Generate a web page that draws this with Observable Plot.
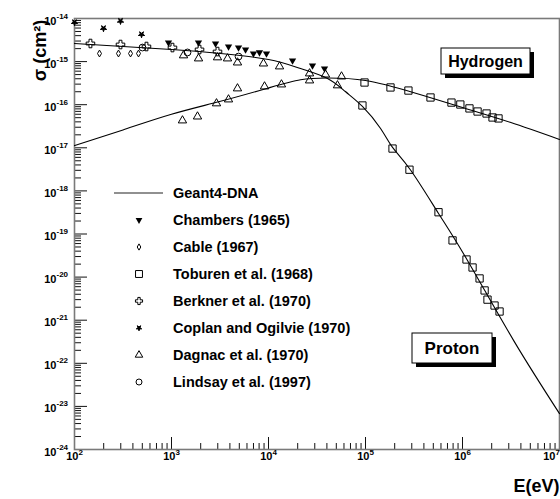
<!DOCTYPE html>
<html><head><meta charset="utf-8">
<script src="https://cdn.jsdelivr.net/npm/d3@7"></script>
<script src="https://cdn.jsdelivr.net/npm/@observablehq/plot@0.6"></script>
<style>
html,body{margin:0;padding:0;background:#fff;}
#chart{position:relative;width:560px;height:499px;}
</style></head><body><div id="chart"></div>
<script>
// ---- Geant4-DNA curves ----
const protonCurveE = [100, 1000, 3200, 1e4, 2.14e4, 4.06e4, 6.2e4, 9.3e4, 1.43e5, 1.9e5, 2.9e5, 5.66e5, 1.13e6, 3.36e6, 1e7];
const protonCurveS = [2.63e-15, 1.91e-15, 1.54e-15, 1.12e-15, 6.9e-16, 4.06e-16, 2.02e-16, 9.1e-17, 2.8e-17, 1.02e-17, 3.1e-18, 3.0e-19, 2.4e-20, 3.4e-22, 6.8e-24];
const hydrogenCurveE = [100, 316, 1000, 3200, 1e4, 2.14e4, 4.06e4, 1e5, 3.1e5, 1e6, 3.1e6, 1e7];
const hydrogenCurveS = [1.13e-17, 2.6e-17, 6.0e-17, 1.2e-16, 2.45e-16, 3.8e-16, 4.16e-16, 3.64e-16, 1.92e-16, 8.6e-17, 3.9e-17, 1.56e-17];

// ---- experimental data ----
const chambersE = [931, 1897, 2844, 3873, 4910, 5800, 7000, 8070, 9530, 17700, 28400, 37800];
const chambersS = [2.77e-15, 2.77e-15, 2.63e-15, 2.24e-15, 2.12e-15, 1.91e-15, 1.54e-15, 1.63e-15, 1.54e-15, 1.06e-15, 8.1e-16, 6.9e-16];
const cableE = [181, 284, 378, 457];
const cableS = [1.54e-15, 1.54e-15, 1.54e-15, 1.54e-15];
const toburenE = [9.77e4, 1.81e5, 2.77e5, 4.68e5, 7.7e5, 9.5e5, 1.18e6, 1.43e6, 1.77e6, 2.04e6, 2.35e6,
                  9.3e4, 1.9e5, 2.84e5, 5.66e5, 7.9e5, 1.10e6, 1.27e6, 1.50e6, 1.69e6, 1.81e6, 2.14e6, 2.41e6];
const toburenS = [3.27e-16, 2.51e-16, 2.13e-16, 1.47e-16, 1.12e-16, 1.01e-16, 8.2e-17, 6.95e-17, 6.25e-17, 5.05e-17, 4.8e-17,
                  9.6e-17, 9.6e-18, 3.1e-18, 3.2e-19, 7.1e-20, 2.56e-20, 1.67e-20, 9.3e-21, 4.9e-21, 3.0e-21, 2.19e-21, 1.59e-21];
const berknerE = [146, 298, 552, 1023, 1945, 2980];
const berknerS = [2.63e-15, 2.49e-15, 2.24e-15, 2.12e-15, 1.91e-15, 1.71e-15];
const coplanE = [100, 199, 298, 491];
const coplanS = [8.1e-15, 5.9e-15, 8.7e-15, 4.26e-15];
const dagnacE = [1330, 1900, 2980, 3780, 4790, 8870, 13000, 26500, 26500, 38700, 56600, 51400,
                 1297, 1854, 2910, 3870, 4790, 9100, 13600];
const dagnacS = [1.39e-15, 1.18e-15, 1.25e-15, 1.18e-15, 9.5e-16, 9.0e-16, 7.7e-16, 5.3e-16, 3.64e-16, 5.0e-16, 4.5e-16, 2.8e-16,
                 4.3e-17, 5.3e-17, 1.07e-16, 1.32e-16, 2.38e-16, 2.64e-16, 2.94e-16];
const lindsayE = [502, 1462, 4910];
const lindsayS = [2.12e-15, 1.63e-15, 1.31e-15];

// ---- tick labels ----
const xDecades = [1e2, 1e3, 1e4, 1e5, 1e6, 1e7];
const xExp = ["2", "3", "4", "5", "6", "7"];
const yDecades = [1e-24, 1e-23, 1e-22, 1e-21, 1e-20, 1e-19, 1e-18, 1e-17, 1e-16, 1e-15, 1e-14];
const yExp = ["-24", "-23", "-22", "-21", "-20", "-19", "-18", "-17", "-16", "-15", "-14"];

const xMinor = [];
for (let e = 2; e < 7; e++) for (let k = 2; k <= 9; k++) xMinor.push(k * Math.pow(10, e));
const yMinor = [];
for (let e = -24; e < -14; e++) for (let k = 2; k <= 9; k++) yMinor.push(k * Math.pow(10, e));

const FONT = '"Liberation Sans", Arial, Helvetica, sans-serif';

const series = [
  {name: "Chambers (1965)", E: chambersE, S: chambersS, symbol: d3.symbolTriangle, rotate: 180, fill: "black", stroke: "none", r: 2.7, lr: 2.5},
  {name: "Cable (1967)", E: cableE, S: cableS, symbol: d3.symbolDiamond, rotate: 0, fill: "none", stroke: "black", r: 2.1, lr: 1.9},
  {name: "Toburen et al. (1968)", E: toburenE, S: toburenS, symbol: d3.symbolSquare, rotate: 0, fill: "none", stroke: "black", r: 4.1, lr: 3.9},
  {name: "Berkner et al. (1970)", E: berknerE, S: berknerS, symbol: d3.symbolCross, rotate: 0, fill: "none", stroke: "black", r: 3.6, lr: 3.0},
  {name: "Coplan and Ogilvie (1970)", E: coplanE, S: coplanS, symbol: d3.symbolStar, rotate: 180, fill: "black", stroke: "black", r: 2.0, lr: 1.7},
  {name: "Dagnac et al. (1970)", E: dagnacE, S: dagnacS, symbol: d3.symbolTriangle, rotate: 0, fill: "none", stroke: "black", r: 3.1, lr: 2.8},
  {name: "Lindsay et al. (1997)", E: lindsayE, S: lindsayS, symbol: d3.symbolCircle, rotate: 0, fill: "none", stroke: "black", r: 3.4, lr: 3.0}
];

const curves = [
  ...protonCurveE.map((e, i) => ({E: e, S: protonCurveS[i], c: "Proton"})),
  ...hydrogenCurveE.map((e, i) => ({E: e, S: hydrogenCurveS[i], c: "Hydrogen"}))
];

const dotMarks = series.map(s => Plot.dot(s.E.map((e, i) => ({E: e, S: s.S[i]})), {
  x: "E", y: "S", symbol: s.symbol, r: s.r, rotate: s.rotate, fill: s.fill, stroke: s.stroke, strokeWidth: 1
}));

const tickColor = "#111";
const svgEl = Plot.plot({
  width: 560, height: 499,
  marginLeft: 74, marginRight: 1, marginTop: 18, marginBottom: 50,
  style: {fontFamily: FONT, background: "white", overflow: "visible"},
  x: {type: "log", domain: [1e2, 1e7]},
  y: {type: "log", domain: [1e-24, 1e-14]},
  marks: [
    Plot.axisX(xDecades, {tickSize: -12, tickFormat: () => "", label: null, stroke: tickColor}),
    Plot.axisX(xMinor, {tickSize: -6, tickFormat: () => "", label: null, stroke: tickColor}),
    Plot.axisY(yDecades, {tickSize: -13, tickFormat: () => "", label: null, stroke: tickColor}),
    Plot.axisY(yMinor, {tickSize: -7, tickFormat: () => "", label: null, stroke: tickColor}),
    Plot.frame({stroke: "#7a7a7a", strokeWidth: 1.6}),
    Plot.line(curves, {x: "E", y: "S", z: "c", stroke: "black", strokeWidth: 1.1, curve: "natural"}),
    ...dotMarks,
    // x tick labels
    Plot.text(xDecades, {x: d => d, frameAnchor: "bottom", text: () => "10", textAnchor: "end", dx: (4), dy: 10, fontSize: 11, fontWeight: "bold", fill: "black",
      filter: (d, i) => i < xDecades.length - 1}),
    Plot.text(xDecades, {x: d => d, frameAnchor: "bottom", text: (d, i) => xExp[i], textAnchor: "start", dx: 4, dy: 5.5, fontSize: 8, fontWeight: "bold", fill: "black",
      filter: (d, i) => i < xDecades.length - 1}),
    // last x label kept inside the picture
    Plot.text(xDecades.slice(-1), {x: d => d, frameAnchor: "bottom", text: () => "10", textAnchor: "end", dx: -4, dy: 10, fontSize: 11, fontWeight: "bold", fill: "black"}),
    Plot.text(xDecades.slice(-1), {x: d => d, frameAnchor: "bottom", text: () => xExp[xExp.length - 1], textAnchor: "start", dx: -4, dy: 5.5, fontSize: 8, fontWeight: "bold", fill: "black"}),
    // y tick labels
    Plot.text(yDecades, {y: d => d, frameAnchor: "left", text: () => "10", textAnchor: "end", dx: -18, dy: 2.5, fontSize: 11, fontWeight: "bold", fill: "black"}),
    Plot.text(yDecades, {y: d => d, frameAnchor: "left", text: (d, i) => yExp[i], textAnchor: "start", dx: -18, dy: -2.5, fontSize: 8, fontWeight: "bold", fill: "black"}),
    // axis titles
    Plot.text(["σ (cm²)"], {frameAnchor: "top-left", dx: -41, dy: 32, rotate: -90, textAnchor: "middle", fontSize: 18, fontWeight: "bold", fill: "black"}),
    Plot.text(["E(eV)"], {frameAnchor: "bottom-right", dx: 0, dy: 42, textAnchor: "end", fontSize: 18, fontWeight: "bold", fill: "black"})
  ]
});
document.getElementById("chart").appendChild(svgEl);

// ---- legend and process labels ----
const svg = d3.select(svgEl);
const lg = svg.append("g").attr("font-family", FONT).attr("font-weight", "bold").attr("font-size", 14.5).attr("text-anchor", "start");
const rowY = i => 193 + i * 27;
lg.append("line").attr("x1", 114).attr("x2", 163).attr("y1", rowY(0)).attr("y2", rowY(0)).attr("stroke", "#222").attr("stroke-width", 1.1);
lg.append("text").attr("x", 173).attr("y", rowY(0)).attr("dy", "0.35em").attr("text-anchor", "start").attr("fill", "black").text("Geant4-DNA");
series.forEach((s, i) => {
  const y = rowY(i + 1);
  lg.append("path")
    .attr("d", d3.symbol(s.symbol, Math.PI * s.lr * s.lr)())
    .attr("transform", `translate(139,${y}) rotate(${s.rotate})`)
    .attr("fill", s.fill).attr("stroke", s.stroke).attr("stroke-width", 1);
  lg.append("text").attr("x", 173).attr("y", y).attr("dy", "0.35em").attr("text-anchor", "start").attr("fill", "black").text(s.name);
});

function labelBox(x, y, w, h, txt, fs) {
  const g = svg.append("g").attr("font-family", FONT).attr("font-weight", "bold");
  g.append("rect").attr("x", x + 4).attr("y", y + 4).attr("width", w).attr("height", h).attr("fill", "black");
  g.append("rect").attr("x", x).attr("y", y).attr("width", w).attr("height", h).attr("fill", "white").attr("stroke", "black").attr("stroke-width", 1);
  g.append("text").attr("x", x + w / 2).attr("y", y + h / 2).attr("dy", "0.36em").attr("text-anchor", "middle").attr("font-size", fs).attr("fill", "black").text(txt);
}
labelBox(441, 48, 89, 26, "Hydrogen", 16);
labelBox(412, 333, 80, 30, "Proton", 17);
</script></body></html>
